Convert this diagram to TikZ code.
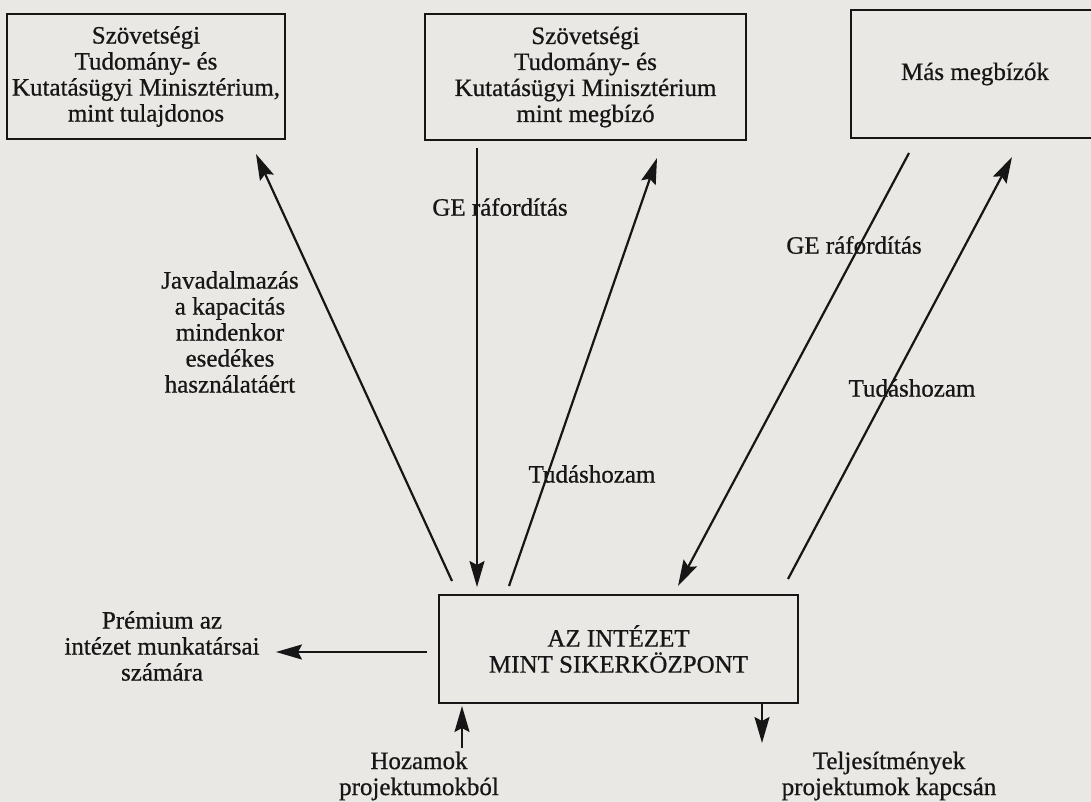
\documentclass[tikz,border=0pt]{standalone}
\usepackage{fontspec}
\setmainfont{Liberation Serif}[RawFeature={embolden=0.7}]
\usetikzlibrary{arrows.meta}
\definecolor{paper}{RGB}{234,232,228}
\definecolor{ink}{RGB}{22,22,22}
\tikzset{
  every node/.style={font=\fontsize{25}{26}\selectfont, text=ink, inner sep=0pt},
  boxnode/.style={draw=ink, line width=2pt, align=center, anchor=center},
  lbl/.style={align=center, anchor=center},
  arr/.style={draw=ink, line width=2.2pt, -{Stealth[length=26pt,width=15pt,inset=4pt]}}
}
\begin{document}
\begin{tikzpicture}[x=1pt,y=-1pt]
\useasboundingbox (0,0) rectangle (1091,802);
\fill[paper] (0,0) rectangle (1091,802);
\clip (0,0) rectangle (1091,802);
% boxes
\node[boxnode, minimum width=278pt, minimum height=125pt] (box1) at (146,76.5)
  {Szövetségi\\Tudomány- és\\Kutatásügyi Minisztérium,\\mint tulajdonos};
\node[boxnode, minimum width=321pt, minimum height=126pt] (box2) at (585.5,77)
  {Szövetségi\\Tudomány- és\\Kutatásügyi Minisztérium\\mint megbízó};
\node[boxnode, minimum width=248pt, minimum height=128pt] (box3) at (975,74)
  {Más megbízók};
\node[boxnode, minimum width=359pt, minimum height=108pt] (center) at (618.5,649)
  {AZ INTÉZET\\MINT SIKERKÖZPONT};
% labels
\node[lbl] (ge1) at (500,207) {GE ráfordítás};
\node[lbl] (jav) at (230,332) {Javadalmazás\\a kapacitás\\mindenkor\\esedékes\\használatáért};
\node[lbl] (tud1) at (592,474) {Tudáshozam};
\node[lbl] (ge2) at (854,245) {GE ráfordítás};
\node[lbl] (tud2) at (912,388) {Tudáshozam};
\node[lbl] (prem) at (162,646) {Prémium az\\intézet munkatársai\\számára};
\node[lbl] (hoz) at (419,776) {Hozamok\\projektumokból};
\node[lbl] (telj) at (889,776) {Teljesítmények\\projektumok kapcsán};
% connectors
\draw[arr] ([shift={(14,-13)}]center.north west) -- ([shift={(-30,14)}]box1.south east);
\draw[arr] ([shift={(53,7)}]box2.south west) -- ([shift={(39,-7)}]center.north west);
\draw[arr] ([shift={(71,-8)}]center.north west) -- ([shift={(233,17)}]box2.south west);
\draw[arr] ([shift={(59,14)}]box3.south west) -- ([shift={(240,-8)}]center.north west);
\draw[arr] ([shift={(-11,-15)}]center.north east) -- ([shift={(162,18)}]box3.south west);
\draw[arr] ([shift={(-11,3)}]center.west) -- ([shift={(-162,3)}]center.west);
\draw[arr] ([shift={(24,44)}]center.south west) -- ([shift={(24,2)}]center.south west);
\draw[arr] ([shift={(-37,0)}]center.south east) -- ([shift={(-37,39)}]center.south east);
\end{tikzpicture}
\end{document}
